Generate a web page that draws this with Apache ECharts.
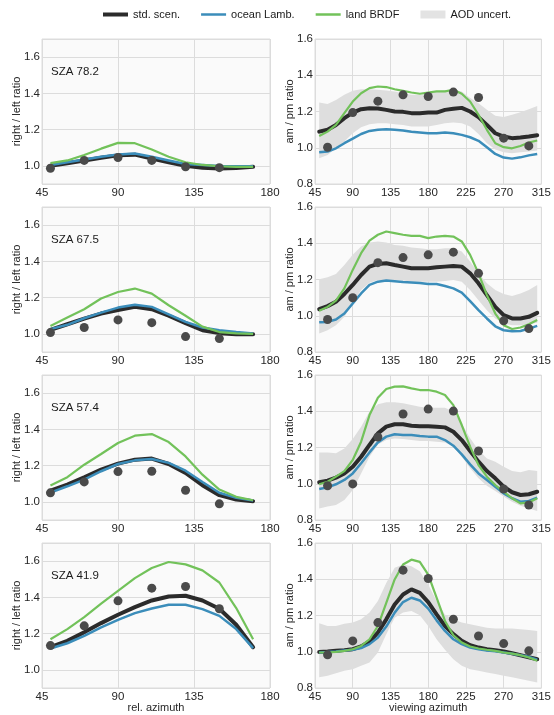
<!DOCTYPE html>
<html>
<head>
<meta charset="utf-8">
<script src="https://cdn.jsdelivr.net/npm/echarts@6/dist/echarts.min.js"></script>
<style>html,body{margin:0;padding:0;background:#fff}#c{width:554px;height:715px}</style>
</head>
<body>
<div id="c"></div>
<script>
// ---------- data ----------
const szaLabels = ['SZA 78.2', 'SZA 67.5', 'SZA 57.4', 'SZA 41.9'];
const relAz = [50,60,70,80,90,100,110,120,130,140,150,160,170];
const obsRelAz = [50,70,90,110,130,150];
const viewAz = [50,60,70,80,90,100,110,120,130,140,150,160,170,180,190,200,210,220,230,240,250,260,270,280,290,300,310];
const obsViewAz = [60,90,120,150,180,210,240,270,300];
const relTicks = [45, 90, 135, 180];
const viewTicks = [45, 90, 135, 180, 225, 270, 315];

// left column: right / left ratio
const stdL1   = [1.0,1.015,1.03,1.045,1.058,1.062,1.04,1.02,1.0,0.99,0.985,0.988,0.995];
const oceanL1 = [1.005,1.02,1.035,1.05,1.063,1.068,1.05,1.03,1.01,1.005,1.0,0.998,0.998];
const landL1  = [1.015,1.03,1.06,1.095,1.127,1.125,1.09,1.05,1.02,1.005,0.998,0.995,0.995];
const obsL1   = [0.987,1.03,1.046,1.03,0.995,0.99];

const stdL2   = [1.022,1.053,1.084,1.112,1.132,1.149,1.136,1.1,1.059,1.02,1.004,0.998,0.998];
const oceanL2 = [1.026,1.05,1.086,1.117,1.145,1.161,1.149,1.108,1.066,1.035,1.02,1.01,1.002];
const landL2  = [1.044,1.09,1.136,1.195,1.231,1.25,1.222,1.158,1.1,1.04,1.01,1.003,1.0];
const obsL2   = [1.007,1.035,1.077,1.062,0.985,0.974];

const stdL3   = [1.062,1.095,1.136,1.178,1.211,1.233,1.239,1.209,1.16,1.092,1.037,1.013,1.004];
const oceanL3 = [1.051,1.086,1.123,1.169,1.209,1.229,1.237,1.215,1.172,1.11,1.05,1.022,1.007];
const landL3  = [1.09,1.136,1.205,1.264,1.325,1.365,1.374,1.33,1.251,1.15,1.068,1.028,1.009];
const obsL3   = [1.05,1.11,1.167,1.169,1.064,0.989];

const stdL4   = [1.125,1.16,1.208,1.258,1.304,1.346,1.383,1.405,1.409,1.383,1.337,1.249,1.125];
const oceanL4 = [1.118,1.147,1.188,1.234,1.276,1.313,1.339,1.359,1.359,1.335,1.298,1.225,1.12];
const landL4  = [1.169,1.225,1.291,1.365,1.436,1.506,1.562,1.595,1.582,1.549,1.482,1.341,1.169];
const obsL4   = [1.134,1.243,1.381,1.451,1.46,1.337];

// right column: am / pm ratio
const stdR1   = [1.089,1.099,1.126,1.163,1.194,1.213,1.218,1.217,1.209,1.2,1.198,1.191,1.191,1.194,1.194,1.209,1.215,1.22,1.2,1.169,1.126,1.08,1.062,1.053,1.056,1.062,1.069];
const landR1  = [1.065,1.089,1.126,1.191,1.255,1.301,1.329,1.338,1.335,1.323,1.314,1.305,1.298,1.305,1.311,1.311,1.32,1.298,1.255,1.182,1.099,1.025,1.003,0.997,1.01,1.029,1.04];
const oceanR1 = [0.975,0.979,0.997,1.025,1.05,1.076,1.093,1.099,1.102,1.099,1.095,1.088,1.084,1.08,1.08,1.084,1.08,1.071,1.058,1.038,1.003,0.966,0.946,0.94,0.947,0.958,0.966];
const aodHiR1 = [1.25,1.242,1.264,1.292,1.314,1.323,1.323,1.32,1.316,1.311,1.301,1.292,1.292,1.301,1.311,1.316,1.32,1.311,1.274,1.246,1.209,1.176,1.169,1.182,1.196,1.213,1.231];
const aodLoR1 = [0.942,0.96,0.997,1.034,1.08,1.113,1.13,1.135,1.135,1.13,1.126,1.117,1.117,1.117,1.126,1.135,1.139,1.135,1.117,1.076,1.025,0.99,0.975,0.97,0.975,0.98,0.985];
const obsR1   = [1.003,1.194,1.257,1.292,1.283,1.307,1.277,1.053,1.01];

const stdR2   = [1.036,1.053,1.077,1.12,1.17,1.225,1.271,1.286,1.29,1.28,1.271,1.262,1.262,1.262,1.267,1.271,1.275,1.271,1.234,1.179,1.114,1.049,1.003,0.985,0.985,0.994,1.016];
const landR2  = [1.027,1.049,1.083,1.151,1.253,1.345,1.415,1.447,1.465,1.456,1.447,1.441,1.441,1.428,1.437,1.441,1.437,1.41,1.336,1.234,1.114,1.012,0.948,0.927,0.935,0.953,0.976];
const oceanR2 = [0.964,0.966,0.979,1.012,1.068,1.123,1.17,1.188,1.194,1.19,1.186,1.184,1.181,1.175,1.175,1.164,1.151,1.127,1.081,1.031,0.985,0.942,0.92,0.915,0.916,0.929,0.944];
const aodHiR2 = [1.201,1.212,1.23,1.28,1.336,1.382,1.404,1.41,1.404,1.391,1.386,1.376,1.373,1.367,1.367,1.373,1.373,1.354,1.299,1.234,1.179,1.142,1.12,1.109,1.123,1.142,1.17];
const aodLoR2 = [0.902,0.92,0.948,0.994,1.068,1.142,1.182,1.197,1.201,1.197,1.194,1.188,1.188,1.188,1.188,1.192,1.197,1.188,1.142,1.086,1.031,0.985,0.957,0.948,0.948,0.953,0.961];
const obsR2   = [0.979,1.099,1.293,1.321,1.336,1.351,1.234,0.972,0.929];

const stdR3   = [1.008,1.017,1.034,1.057,1.094,1.149,1.214,1.278,1.315,1.328,1.328,1.32,1.317,1.317,1.315,1.311,1.287,1.241,1.181,1.122,1.07,1.03,0.984,0.953,0.938,0.942,0.956];
const landR3  = [0.997,1.011,1.039,1.07,1.131,1.232,1.379,1.475,1.523,1.536,1.537,1.526,1.517,1.517,1.508,1.49,1.434,1.324,1.205,1.103,1.039,0.993,0.956,0.92,0.892,0.897,0.92];
const oceanR3 = [0.971,0.98,0.997,1.021,1.057,1.113,1.173,1.228,1.26,1.273,1.269,1.269,1.263,1.26,1.26,1.241,1.21,1.162,1.107,1.057,1.021,0.984,0.947,0.92,0.901,0.905,0.923];
const aodHiR3 = [1.173,1.173,1.168,1.195,1.247,1.315,1.398,1.438,1.449,1.449,1.444,1.434,1.425,1.42,1.42,1.42,1.398,1.333,1.251,1.186,1.14,1.122,1.094,1.07,1.063,1.076,1.07];
const aodLoR3 = [0.864,0.874,0.883,0.91,0.966,1.057,1.149,1.217,1.241,1.25,1.247,1.241,1.236,1.236,1.232,1.227,1.205,1.149,1.085,1.03,0.989,0.96,0.929,0.901,0.879,0.864,0.85];
const obsR3   = [0.989,0.999,1.258,1.385,1.412,1.401,1.181,0.971,0.883];

const stdR4   = [0.999,1.001,1.005,1.009,1.014,1.029,1.056,1.106,1.179,1.261,1.316,1.344,1.325,1.274,1.206,1.142,1.097,1.06,1.036,1.023,1.014,1.009,1.001,0.992,0.981,0.97,0.959];
const landR4  = [0.996,0.996,0.999,1.005,1.014,1.032,1.069,1.142,1.27,1.399,1.481,1.508,1.496,1.426,1.298,1.17,1.091,1.051,1.029,1.018,1.011,1.005,0.996,0.99,0.981,0.968,0.95];
const oceanR4 = [0.996,0.998,1.001,1.007,1.011,1.02,1.042,1.078,1.139,1.216,1.274,1.298,1.283,1.238,1.173,1.115,1.069,1.042,1.023,1.014,1.007,1.003,0.996,0.989,0.981,0.972,0.956];
const aodHiR4 = [1.157,1.142,1.142,1.155,1.161,1.179,1.216,1.28,1.38,1.463,1.481,1.472,1.444,1.371,1.28,1.206,1.179,1.161,1.152,1.142,1.133,1.128,1.128,1.128,1.124,1.12,1.115];
const aodLoR4 = [0.859,0.868,0.882,0.895,0.904,0.923,0.941,0.996,1.097,1.188,1.216,1.225,1.201,1.142,1.069,1.011,0.959,0.923,0.904,0.895,0.886,0.877,0.868,0.859,0.849,0.84,0.831];
const obsR4   = [0.983,1.06,1.161,1.45,1.404,1.179,1.087,1.045,1.005];

// ---------- chart ----------
const leftPanels = [
  {std: stdL1, ocean: oceanL1, land: landL1, obs: obsL1},
  {std: stdL2, ocean: oceanL2, land: landL2, obs: obsL2},
  {std: stdL3, ocean: oceanL3, land: landL3, obs: obsL3},
  {std: stdL4, ocean: oceanL4, land: landL4, obs: obsL4}
];
const rightPanels = [
  {std: stdR1, ocean: oceanR1, land: landR1, obs: obsR1, hi: aodHiR1, lo: aodLoR1},
  {std: stdR2, ocean: oceanR2, land: landR2, obs: obsR2, hi: aodHiR2, lo: aodLoR2},
  {std: stdR3, ocean: oceanR3, land: landR3, obs: obsR3, hi: aodHiR3, lo: aodLoR3},
  {std: stdR4, ocean: oceanR4, land: landR4, obs: obsR4, hi: aodHiR4, lo: aodLoR4}
];

const C_STD = '#2b2b2b', C_OCEAN = '#3b8dba', C_LAND = '#72c25a', C_OBS = '#4a4a4a', C_BAND = '#dedede';
const FONT = '"Liberation Sans", Arial, Helvetica, sans-serif';
const tops = [39, 207, 375, 543];
const H = 145;

const grids = [], xAxes = [], yAxes = [], series = [], titles = [];
const zip = (xs, ys) => xs.map((x, i) => [x, ys[i]]);

const axisLabelStyle = {color: '#262626', fontSize: 11.5, fontFamily: FONT};
const splitLineStyle = {show: true, lineStyle: {color: '#dcdcdc', width: 1}};
const nameStyle = {fontSize: 11, color: '#262626', fontFamily: FONT};

function bandRenderer(rows) {
  return function (params, api) {
    if (params.dataIndex !== 0) return null;
    const upper = rows.map(d => api.coord([d[0], d[2]]));
    const lower = rows.map(d => api.coord([d[0], d[1]])).reverse();
    return {
      type: 'polygon',
      shape: {points: upper.concat(lower)},
      style: {fill: C_BAND, stroke: null},
      silent: true
    };
  };
}

for (let r = 0; r < 4; r++) {
  grids.push({left: 42, top: tops[r], width: 228, height: H, show: true,
    backgroundColor: '#fafafa', borderColor: '#dcdcdc', borderWidth: 1});
  grids.push({left: 315, top: tops[r], width: 228, height: H, show: true,
    backgroundColor: '#fafafa', borderColor: '#dcdcdc', borderWidth: 1});

  const gi = r * 2;
  xAxes.push({type: 'value', gridIndex: gi, min: relTicks[0], max: relTicks[relTicks.length - 1], interval: 45,
    axisLine: {show: false}, axisTick: {show: false}, splitLine: splitLineStyle,
    axisLabel: Object.assign({margin: 3}, axisLabelStyle),
    name: r === 3 ? 'rel. azimuth' : '', nameLocation: 'middle', nameGap: 14, nameMoveOverlap: false,
    nameTextStyle: nameStyle});
  xAxes.push({type: 'value', gridIndex: gi + 1, min: viewTicks[0], max: viewTicks[viewTicks.length - 1], interval: 45,
    axisLine: {show: false}, axisTick: {show: false}, splitLine: splitLineStyle,
    axisLabel: Object.assign({margin: 3}, axisLabelStyle),
    name: r === 3 ? 'viewing azimuth' : '', nameLocation: 'middle', nameGap: 14, nameMoveOverlap: false,
    nameTextStyle: nameStyle});
  yAxes.push({type: 'value', gridIndex: gi, min: 0.9, max: 1.7, splitNumber: 4,
    axisLine: {show: false}, axisTick: {show: false}, splitLine: splitLineStyle,
    axisLabel: Object.assign({margin: 2, showMinLabel: false, showMaxLabel: false,
      formatter: v => v.toFixed(1)}, axisLabelStyle),
    name: 'right / left ratio', nameLocation: 'middle', nameGap: 19.5, nameRotate: 90, nameMoveOverlap: false,
    nameTextStyle: nameStyle});
  yAxes.push({type: 'value', gridIndex: gi + 1, min: 0.8, max: 1.6, interval: 0.2,
    axisLine: {show: false}, axisTick: {show: false}, splitLine: splitLineStyle,
    axisLabel: Object.assign({margin: 2, formatter: v => v.toFixed(1)}, axisLabelStyle),
    name: 'am / pm ratio', nameLocation: 'middle', nameGap: 20, nameRotate: 90, nameMoveOverlap: false,
    nameTextStyle: nameStyle});

  titles.push({text: szaLabels[r], left: 51, top: tops[r] + 27, padding: 0,
    textStyle: {fontSize: 11.5, fontWeight: 'normal', color: '#1a1a1a', fontFamily: FONT}});

  // left panel
  const L = leftPanels[r];
  const lb = {type: 'line', symbol: 'none', silent: true, xAxisIndex: gi, yAxisIndex: gi};
  series.push(Object.assign({}, lb, {name: 'std. scen.', data: zip(relAz, L.std),
    lineStyle: {color: C_STD, width: 4, cap: 'round'}, itemStyle: {color: C_STD}}));
  series.push(Object.assign({}, lb, {name: 'ocean Lamb.', data: zip(relAz, L.ocean),
    lineStyle: {color: C_OCEAN, width: 2.5}, itemStyle: {color: C_OCEAN}}));
  series.push(Object.assign({}, lb, {name: 'land BRDF', data: zip(relAz, L.land),
    lineStyle: {color: C_LAND, width: 2.2}, itemStyle: {color: C_LAND}}));
  series.push({type: 'scatter', name: 'obs', xAxisIndex: gi, yAxisIndex: gi, silent: true,
    symbolSize: 9, itemStyle: {color: C_OBS, opacity: 1}, data: zip(obsRelAz, L.obs), z: 5});

  // right panel
  const R = rightPanels[r];
  const bandRows = viewAz.map((x, i) => [x, R.lo[i], R.hi[i]]);
  series.push({type: 'custom', name: 'AOD uncert.', xAxisIndex: gi + 1, yAxisIndex: gi + 1,
    silent: true, z: 1, clip: true, itemStyle: {color: C_BAND},
    renderItem: bandRenderer(bandRows), encode: {x: 0, y: [1, 2]}, data: bandRows});
  const rb = {type: 'line', symbol: 'none', silent: true, xAxisIndex: gi + 1, yAxisIndex: gi + 1};
  series.push(Object.assign({}, rb, {name: 'std. scen.', data: zip(viewAz, R.std),
    lineStyle: {color: C_STD, width: 4, cap: 'round'}, itemStyle: {color: C_STD}}));
  series.push(Object.assign({}, rb, {name: 'ocean Lamb.', data: zip(viewAz, R.ocean),
    lineStyle: {color: C_OCEAN, width: 2.5}, itemStyle: {color: C_OCEAN}}));
  series.push(Object.assign({}, rb, {name: 'land BRDF', data: zip(viewAz, R.land),
    lineStyle: {color: C_LAND, width: 2.2}, itemStyle: {color: C_LAND}}));
  series.push({type: 'scatter', name: 'obs', xAxisIndex: gi + 1, yAxisIndex: gi + 1, silent: true,
    symbolSize: 9, itemStyle: {color: C_OBS, opacity: 1}, data: zip(obsViewAz, R.obs), z: 5});
}

const chart = echarts.init(document.getElementById('c'), null, {renderer: 'canvas'});
chart.setOption({
  animation: false,
  backgroundColor: '#ffffff',
  textStyle: {fontFamily: FONT},
  title: titles,
  legend: {
    top: 4, left: 98, itemWidth: 25, itemHeight: 8, itemGap: 21,
    textStyle: {fontSize: 11, color: '#1a1a1a', fontFamily: FONT},
    data: [
      {name: 'std. scen.', icon: 'path://M0,0H50V8H0Z', itemStyle: {color: C_STD}},
      {name: 'ocean Lamb.', icon: 'path://M0,0H50V5H0Z', itemStyle: {color: C_OCEAN}},
      {name: 'land BRDF', icon: 'path://M0,0H50V5H0Z', itemStyle: {color: C_LAND}},
      {name: 'AOD uncert.', icon: 'rect', itemStyle: {color: '#e3e3e3'}}
    ]
  },
  grid: grids,
  xAxis: xAxes,
  yAxis: yAxes,
  series: series
});
</script>
</body>
</html>
